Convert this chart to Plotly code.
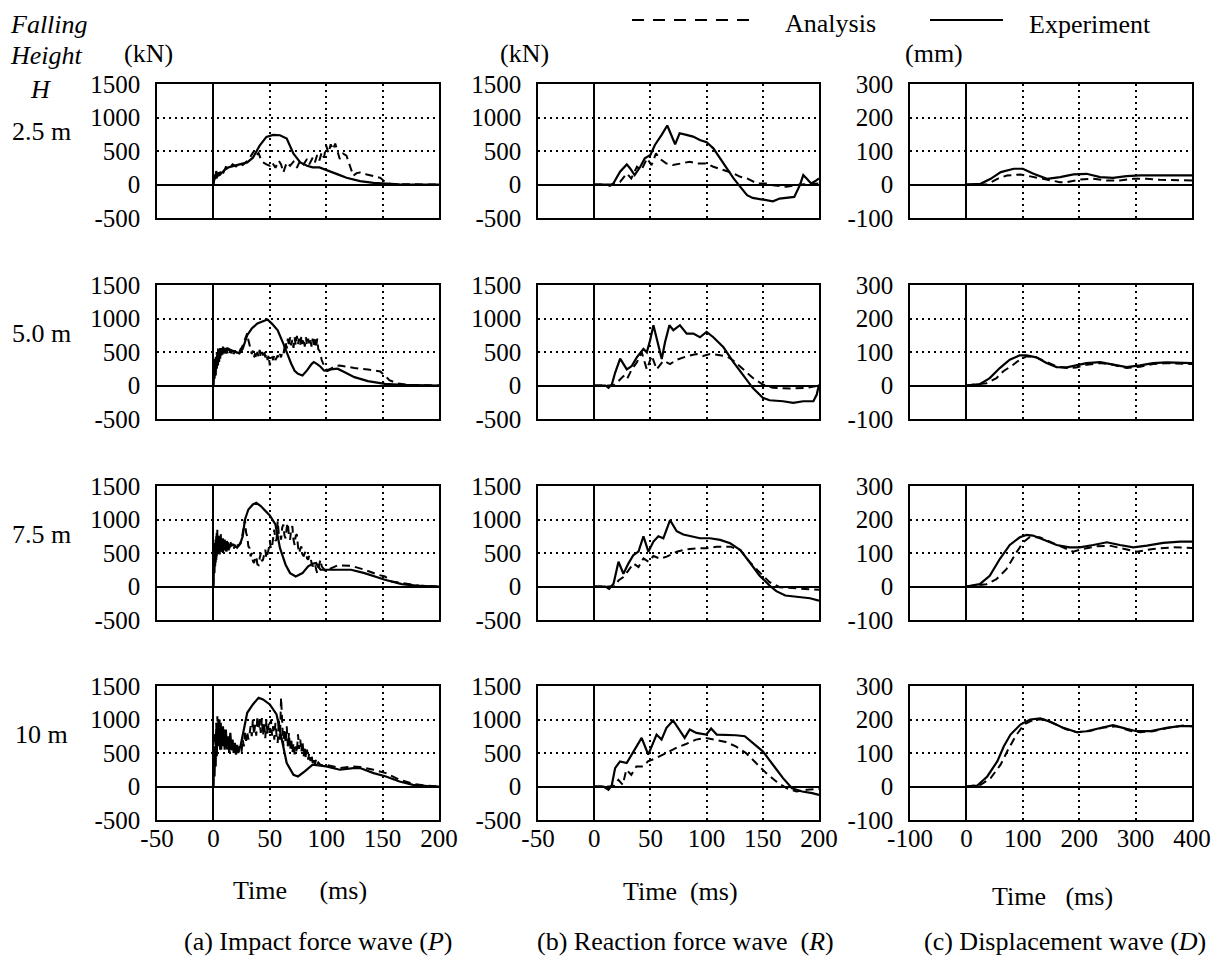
import plotly.graph_objects as go

# the page body adds an 8 px margin, so the figure is drawn 8 px smaller and shifted back
W, H = 1221, 959
OFF = 8
FW, FH = W - OFF, H - OFF
FONT = "Liberation Serif"

# ---- (a) impact force P (kN) ----
p25_t_exp = [0, 0.5, 1.5, 2.5, 3.5, 5, 6, 10, 14, 18, 22, 26, 30, 35, 41, 47, 53, 59, 65, 71, 77, 83, 88, 94, 100, 106, 112, 118, 124, 130, 142, 153, 165, 200]
p25_exp = [0, 150, 80, 200, 120, 180, 150, 220, 260, 280, 300, 310, 330, 400, 580, 710, 740, 735, 685, 460, 330, 280, 255, 255, 220, 180, 140, 100, 70, 50, 25, 10, 3, 0]
p25_t_ana = [0, 1, 2, 3, 4, 5, 7, 9, 11, 14, 17, 20, 23, 26, 30, 33, 35, 36, 38, 40, 42, 44, 47, 50, 52, 55, 58, 60, 62, 65, 68, 71, 74, 77, 80, 83, 85, 88, 90, 92, 94, 96, 98, 100, 102, 104, 106, 108, 110, 112, 115, 118, 121, 124, 127, 130, 136, 142, 148, 153, 158, 200]
p25_ana = [0, 100, 170, 90, 200, 130, 220, 180, 260, 240, 300, 270, 320, 290, 350, 420, 480, 500, 430, 470, 380, 330, 300, 280, 330, 250, 355, 300, 180, 330, 280, 340, 250, 360, 300, 380, 300, 400, 330, 440, 360, 480, 400, 580, 470, 600, 520, 610, 500, 380, 460, 430, 280, 130, 170, 180, 150, 130, 100, 25, 5, 0]

p50_t_exp = [0, 0.5, 1, 1.5, 2, 2.5, 3, 3.5, 4, 4.5, 5, 5.5, 6, 6.5, 7, 7.5, 8, 8.5, 9, 9.5, 10, 10.5, 11, 11.5, 12, 12.5, 13, 13.5, 14,
             17, 20, 23, 26, 28, 30, 34, 39, 44, 48, 52, 57, 62, 66, 69, 72, 75, 79, 83, 87, 89, 92, 95, 98, 101, 104, 110, 116, 125, 137, 152, 167, 200]
p50_exp = [0, 300, 100, 350, 150, 400, 250, 450, 300, 500, 350, 520, 400, 560, 450, 540, 460, 580, 480, 560, 500, 560, 480, 540, 500, 570, 520, 550, 540,
           520, 500, 480, 550, 650, 750, 850, 925, 960, 985, 920, 825, 625, 450, 325, 220, 175, 150, 225, 320, 350, 320, 280, 225, 220, 240, 250, 200, 125, 65, 25, 8, 0]
p50_t_ana = [0, 0.5, 1, 1.5, 2, 2.5, 3, 3.5, 4, 4.5, 5, 5.5, 6, 6.5, 7, 7.5, 8, 8.5, 9, 9.5, 10, 10.5, 11, 11.5, 12, 12.5, 13, 13.5, 14,
             15, 16, 17, 18, 19, 20, 21, 22, 23, 24, 25, 26, 27, 28, 29, 30, 31, 32, 33, 34, 35, 36, 37, 38, 39, 40, 41, 42, 43, 44,
             45, 46, 47, 48, 49, 50, 51, 52, 53, 54, 55, 56, 57, 58, 59, 60, 61, 62, 63, 64, 65, 66, 67, 68, 69, 70, 71, 72, 73, 74,
             75, 76, 77, 78, 79, 80, 81, 82, 83, 84, 85, 86, 87, 88, 89, 90, 91, 92, 93, 94, 95, 96,
             99, 101, 104, 108, 112, 118, 125, 137, 148, 152, 156, 163, 175, 200]
p50_ana = [0, 200, 400, 150, 450, 250, 500, 350, 550, 400, 520, 450, 560, 480, 540, 470, 560, 500, 540, 470, 520, 480, 560, 500, 540, 480, 520, 500, 540,
           520, 480, 540, 470, 520, 500, 480, 520, 500, 540, 560, 600, 650, 700, 760, 780, 680, 600, 520, 470,
           520, 420, 480, 400, 500, 430, 530, 420, 500, 450, 530, 420, 480, 380, 450, 300, 400, 420, 380, 450,
           380, 420, 450, 400, 470, 420, 500, 470, 560, 650, 550, 700, 580, 720, 600, 680, 560, 720, 600, 740,
           620, 700, 600, 740, 620, 700, 580, 720, 600, 700, 620, 680, 580, 700, 600, 690, 560, 700, 540, 520, 460, 380,
           260, 230, 250, 290, 300, 280, 260, 240, 210, 150, 80, 30, 8, 0]

p75_t_exp = [0, 0.5, 1, 1.5, 2, 2.5, 3, 3.5, 4, 4.5, 5, 5.5, 6, 6.5, 7, 7.5, 8, 8.5, 9, 9.5, 10, 10.5, 11, 11.5, 12, 12.5, 13, 13.5, 14, 14.5, 15,
             18, 21, 24, 26, 28, 31, 35, 38, 42, 45, 50, 55, 59, 64, 68, 73, 79, 84, 88, 91, 95, 100, 110, 122, 134, 152, 167, 182, 200]
p75_exp = [0, 250, 600, 300, 700, 400, 800, 500, 750, 550, 700, 480, 650, 520, 720, 560, 680, 500, 650, 540, 700, 560, 640, 520, 680, 580, 660, 540, 640, 580, 620,
           620, 580, 650, 750, 1000, 1150, 1225, 1250, 1200, 1150, 1060, 925, 575, 325, 200, 150, 200, 300, 340, 350, 250, 250, 250, 250, 200, 100, 35, 8, 0]
p75_t_ana = [0, 0.5, 1, 1.5, 2, 2.5, 3, 3.5, 4, 4.5, 5, 5.5, 6, 6.5, 7, 7.5, 8, 8.5, 9, 9.5, 10,
             11, 12, 13, 14, 15, 16, 17, 18, 19, 20, 21, 22, 23, 24, 25, 26, 27,
             28, 29, 30, 31, 32, 33, 34, 35, 36, 37, 38, 39, 40, 41, 42, 43, 44, 45, 46, 47,
             48, 49, 50, 51, 52, 53, 54, 55, 56, 57, 58, 59, 60, 61, 62, 63, 64, 65, 66, 67,
             68, 69, 70, 71, 72, 73, 74, 75, 76, 77, 78, 79, 80, 81, 82, 83, 84, 85, 86, 87,
             88, 89, 90, 91, 92, 93, 94, 95, 96, 97, 98, 99, 100,
             110, 122, 134, 146, 152, 158, 170, 182, 200]
p75_ana = [0, 400, 200, 650, 350, 750, 450, 850, 500, 780, 600, 750, 550, 800, 580, 700, 520, 750, 560, 680, 550,
           700, 580, 650, 560, 680, 600, 640, 560, 620, 580, 650, 600, 620, 640, 700, 820, 900,
           1000, 800, 750, 600, 575, 450, 500, 380, 350, 420, 450, 330, 320, 420, 500, 380, 400, 480, 550, 420,
           480, 560, 675, 560, 600, 720, 850, 680, 700, 975, 780, 800, 700, 880, 925, 760, 720, 880, 950, 740,
           700, 860, 900, 700, 620, 760, 780, 600, 500, 560, 600, 480, 450, 500, 520, 420, 400, 460, 450, 350,
           300, 330, 350, 260, 200, 280, 350, 400, 300, 275, 260, 240, 240,
           315, 310, 250, 175, 150, 75, 50, 15, 0]

p10_t_exp = [0, 0.5, 1, 1.5, 2, 2.5, 3, 3.5, 4, 4.5, 5, 5.5, 6, 6.5, 7, 7.5, 8, 8.5, 9, 9.5, 10,
             11, 12, 13, 14, 15, 16, 17, 18, 19, 20, 21, 22, 23, 24,
             27, 30, 35, 40, 44, 50, 56, 60, 65, 71, 75, 81, 88, 100, 112, 124, 130, 142, 153, 165, 177, 190, 200]
p10_exp = [0, 350, 150, 600, 300, 800, 450, 950, 600, 1000, 650, 900, 550, 950, 700, 850, 600, 900, 650, 800, 550,
           850, 600, 750, 500, 800, 550, 700, 500, 650, 480, 620, 500, 560, 600,
           850, 1100, 1225, 1325, 1300, 1225, 1075, 750, 350, 175, 150, 225, 325, 300, 250, 275, 275, 200, 150, 75, 25, 5, 0]
p10_t_ana = [0, 0.5, 1, 1.5, 2, 2.5, 3, 3.5, 4, 4.5, 5, 5.5, 6, 6.5, 7, 7.5, 8, 8.5, 9, 9.5, 10,
             11, 12, 13, 14, 15, 16, 17, 18, 19, 20, 21, 22, 23, 24,
             25, 26, 27, 28, 29, 30, 31, 32, 33, 34, 35, 36, 37, 38, 39, 40, 41, 42, 43, 44,
             45, 46, 47, 48, 49, 50, 51, 52, 53, 54, 55, 56, 57, 58, 59, 60, 61, 62, 63, 64,
             65, 66, 67, 68, 69, 70, 71, 72, 73, 74, 75, 76, 77, 78, 79, 80, 81, 82, 83, 84,
             85, 86, 87, 88, 89, 90, 91, 92, 93, 94, 95,
             100, 112, 124, 130, 142, 153, 165, 177, 190, 200]
p10_ana = [0, 550, 300, 800, 450, 950, 600, 1050, 700, 900, 650, 1000, 600, 850, 550, 900, 650, 800, 600, 850, 600,
           780, 550, 700, 500, 650, 520, 680, 550, 600, 480, 580, 520, 600, 540,
           520, 700, 600, 800, 680, 820, 700, 780, 900, 750, 1000, 780, 920, 760, 1050, 850, 980, 800, 1020, 760,
           950, 720, 1000, 780, 940, 800, 1000, 760, 900, 700, 950, 760, 650, 1000, 700, 1325, 800, 600, 850, 650,
           900, 600, 800, 550, 720, 500, 650, 480, 600, 500, 780, 560, 700, 520, 680, 450, 600, 420, 550, 400,
           500, 380, 480, 350, 420, 340, 400, 330, 360, 330, 320,
           325, 275, 300, 290, 250, 200, 100, 40, 10, 0]

# ---- (b) reaction force R (kN) ----
r25_t_exp = [0, 11, 14, 17, 23, 29, 32, 36, 41, 45, 50, 54, 60, 65, 72, 76, 82, 88, 94, 100, 106, 115, 124, 130, 136, 141, 150, 159, 165, 174, 178, 183, 186, 189, 193, 198, 200]
r25_exp = [0, 0, -20, 15, 190, 300, 240, 140, 265, 390, 440, 590, 740, 880, 600, 765, 740, 715, 665, 630, 540, 315, 90, -35, -160, -200, -220, -250, -210, -200, -185, -10, 140, 90, 15, 65, 90]
r25_t_ana = [0, 17, 23, 29, 33, 38, 42, 47, 51, 55, 58, 64, 70, 79, 85, 91, 100, 106, 115, 124, 130, 136, 145, 153, 159, 171, 183, 200]
r25_ana = [0, 0, 40, 165, 90, 265, 215, 390, 290, 465, 390, 315, 290, 315, 340, 315, 315, 265, 215, 165, 115, 90, 15, 15, -10, -35, 0, 15]

r50_t_exp = [0, 10, 12.7, 15.7, 18.6, 23.1, 29, 33.4, 37.9, 43.8, 46.8, 49.7, 52.7, 57.1, 60.1, 63, 66.9, 70.4, 76.3, 82.3, 88.2, 94.1, 100, 106, 115, 124, 133, 141, 150, 156, 168, 177, 186, 195, 198, 200]
r50_exp = [0, 0, -35, 15, 190, 400, 240, 290, 420, 545, 495, 670, 900, 600, 395, 645, 900, 825, 900, 775, 775, 720, 800, 720, 570, 345, 140, -35, -185, -220, -235, -260, -235, -235, -135, 15]
r50_t_ana = [0, 17, 21.6, 26, 29, 33.4, 37.9, 42.3, 46.8, 51.2, 55.6, 61.5, 67.5, 73.4, 82.3, 91.1, 97, 103, 109, 118, 124, 133, 141, 150, 159, 174, 189, 200]
r50_ana = [0, 0, 65, 140, 90, 240, 345, 495, 240, 445, 240, 370, 320, 385, 435, 470, 440, 470, 460, 435, 370, 240, 115, 15, -35, -45, -35, 0]

r75_t_exp = [0, 10, 13.3, 17.2, 21.6, 26, 30.5, 34.9, 39.4, 43.8, 48.2, 52.7, 57.1, 61.5, 67.5, 73.4, 79.3, 85.2, 94.1, 103, 112, 121, 130, 138, 147, 156, 162, 170, 180, 192, 200]
r75_exp = [0, 0, -35, 40, 370, 190, 345, 470, 520, 750, 520, 670, 750, 720, 990, 825, 775, 750, 720, 720, 695, 645, 545, 370, 165, 15, -70, -135, -150, -175, -210]
r75_t_ana = [0, 18.6, 21.6, 26, 30.5, 34.9, 39.4, 43.8, 48.2, 52.7, 58.6, 64.5, 73.4, 82.3, 91.1, 100, 109, 121, 130, 138, 147, 156, 165, 177, 189, 200]
r75_ana = [0, 0, 90, 140, 240, 345, 290, 420, 370, 455, 415, 445, 520, 555, 570, 570, 595, 595, 545, 370, 215, 65, -10, -20, -35, -50]

r10_t_exp = [0, 8.3, 12.7, 15.6, 18.6, 23, 28.9, 34.8, 42.2, 48.1, 55.5, 59.9, 64.3, 70.2, 76.1, 80.5, 85, 90.9, 99.7, 104, 109, 117, 126, 134, 141, 150, 159, 168, 176, 185, 194, 200]
r10_exp = [0, 0, -50, 15, 275, 375, 350, 525, 725, 475, 775, 700, 875, 985, 825, 725, 850, 800, 775, 865, 775, 775, 765, 750, 650, 525, 325, 125, -25, -75, -100, -125]
r10_t_ana = [0, 17, 21.5, 25.4, 28.6, 33, 37.5, 43.4, 47.8, 55.2, 64, 72.9, 81.7, 90.6, 99.4, 108, 117, 126, 135, 144, 153, 162, 171, 180, 189, 200]
r10_ana = [0, 0, 100, 25, 250, 175, 300, 300, 375, 425, 500, 575, 635, 700, 725, 700, 665, 600, 500, 350, 200, 75, -25, -75, -50, -35]

# ---- (c) displacement D (mm) ----
d25_t_exp = [0, 25, 43, 61, 84, 100, 119, 143, 166, 190, 213, 237, 260, 284, 308, 355, 400]
d25_exp = [0, 2, 17, 37, 47, 47, 32, 17, 22, 30, 32, 22, 20, 25, 27, 27, 27]
d25_t_ana = [0, 37, 55, 72, 96, 119, 143, 166, 178, 202, 225, 249, 272, 296, 319, 343, 400]
d25_ana = [0, 0, 17, 27, 30, 22, 14, 7, 7, 15, 17, 12, 12, 17, 17, 14, 12]

d50_t_exp = [0, 23.7, 41.4, 59.2, 76.9, 94.7, 106.5, 124, 142, 160, 178, 195, 213, 237, 260, 284, 308, 331, 355, 400]
d50_exp = [0, 4, 22, 52, 77, 90, 90, 84, 67, 55, 54, 60, 67, 70, 62, 55, 60, 67, 69, 67]
d50_t_ana = [0, 35.5, 53.3, 65, 83, 94.7, 106.5, 124, 142, 160, 178, 195, 213, 237, 260, 284, 308, 331, 355, 400]
d50_ana = [0, 7, 22, 42, 62, 77, 87, 84, 70, 57, 52, 54, 62, 67, 62, 52, 56, 64, 67, 64]

d75_t_exp = [0, 23.7, 41.4, 59.2, 76.9, 94.7, 106.5, 118, 136, 160, 183, 201, 225, 249, 272, 296, 320, 349, 379, 400]
d75_exp = [0, 7, 32, 82, 124, 147, 154, 152, 140, 124, 117, 117, 124, 132, 124, 117, 122, 130, 134, 134]
d75_t_ana = [0, 35.5, 53.3, 71, 88.8, 100.6, 112, 130, 148, 172, 189, 207, 231, 254, 278, 302, 331, 367, 400]
d75_ana = [0, 7, 22, 52, 102, 132, 147, 147, 134, 117, 104, 112, 120, 122, 112, 104, 112, 117, 115]

d10_t_exp = [0, 19.4, 37, 54.7, 66.4, 78.2, 95.8, 113, 131, 149, 172, 196, 213, 237, 260, 284, 302, 325, 355, 378, 400]
d10_exp = [0, 3, 30, 75, 120, 155, 185, 200, 203, 193, 175, 162, 165, 175, 183, 172, 165, 165, 175, 180, 180]
d10_t_ana = [0, 25.3, 43, 60.6, 72.4, 87, 102, 120, 137, 155, 178, 196, 219, 243, 266, 290, 308, 331, 361, 384, 400]
d10_ana = [0, 5, 25, 65, 105, 150, 185, 200, 200, 188, 170, 162, 166, 176, 180, 166, 162, 165, 176, 182, 180]

heights = ["2.5 m", "5.0 m", "7.5 m", "10 m"]

# tick values and labels (plain hyphen minus like the original)
force_t_ticks = [-50, 0, 50, 100, 150, 200]
force_t_labels = ["-50", "0", "50", "100", "150", "200"]
force_ticks = [-500, 0, 500, 1000, 1500]
force_labels = ["-500", "0", "500", "1000", "1500"]
disp_t_ticks = [-100, 0, 100, 200, 300, 400]
disp_t_labels = ["-100", "0", "100", "200", "300", "400"]
disp_ticks = [-100, 0, 100, 200, 300]
disp_labels = ["-100", "0", "100", "200", "300"]

panels = [
    [(p25_t_exp, p25_exp, p25_t_ana, p25_ana), (p50_t_exp, p50_exp, p50_t_ana, p50_ana),
     (p75_t_exp, p75_exp, p75_t_ana, p75_ana), (p10_t_exp, p10_exp, p10_t_ana, p10_ana)],
    [(r25_t_exp, r25_exp, r25_t_ana, r25_ana), (r50_t_exp, r50_exp, r50_t_ana, r50_ana),
     (r75_t_exp, r75_exp, r75_t_ana, r75_ana), (r10_t_exp, r10_exp, r10_t_ana, r10_ana)],
    [(d25_t_exp, d25_exp, d25_t_ana, d25_ana), (d50_t_exp, d50_exp, d50_t_ana, d50_ana),
     (d75_t_exp, d75_exp, d75_t_ana, d75_ana), (d10_t_exp, d10_exp, d10_t_ana, d10_ana)],
]

# panel boxes in page pixels
col_px = [(157, 439), (538, 819), (910, 1192)]
row_px = [(84, 218), (285, 419), (486, 620), (686, 820)]
x_ranges = [[-50, 200], [-50, 200], [-100, 400]]
y_ranges = [[-500, 1500], [-500, 1500], [-100, 300]]
x_ticks = [(force_t_ticks, force_t_labels), (force_t_ticks, force_t_labels), (disp_t_ticks, disp_t_labels)]
y_ticks = [(force_ticks, force_labels), (force_ticks, force_labels), (disp_ticks, disp_labels)]


def fx(p):
    return (p - OFF) / FW


def fy(p):
    return 1 - (p - OFF) / FH


fig = go.Figure()
layout = {}
for c in range(3):
    for r in range(4):
        k = r * 3 + c + 1
        sfx = "" if k == 1 else str(k)
        te, ve, ta, va = panels[c][r]
        fig.add_trace(go.Scatter(x=ta, y=va, xaxis="x" + sfx, yaxis="y" + sfx, mode="lines",
                                 line=dict(color="black", width=2, dash="8px,5px"), showlegend=False))
        fig.add_trace(go.Scatter(x=te, y=ve, xaxis="x" + sfx, yaxis="y" + sfx, mode="lines",
                                 line=dict(color="black", width=2.2), showlegend=False))
        common = dict(showline=True, mirror=True, linecolor="black", linewidth=1.5,
                      showgrid=True, gridcolor="black", gridwidth=1.5, griddash="2px,4px",
                      zeroline=True, zerolinecolor="black", zerolinewidth=1.5, automargin=False,
                      ticks="", tickfont=dict(family=FONT, size=25, color="black"))
        layout["xaxis" + sfx] = dict(common, domain=[fx(col_px[c][0]), fx(col_px[c][1])],
                                     range=x_ranges[c], tickvals=x_ticks[c][0], ticktext=x_ticks[c][1],
                                     anchor="y" + sfx, showticklabels=(r == 3), ticklabelstandoff=-5)
        layout["yaxis" + sfx] = dict(common, domain=[fy(row_px[r][1]), fy(row_px[r][0])],
                                     range=y_ranges[c], tickvals=y_ticks[c][0], ticktext=y_ticks[c][1],
                                     anchor="x" + sfx, ticklabelstandoff=10)


def note(text, x, y, xanchor="center", size=26):
    return dict(text=text, x=fx(x), y=fy(y), xref="paper", yref="paper", xanchor=xanchor,
                yanchor="middle", showarrow=False, font=dict(family=FONT, size=size, color="black"))


annotations = [
    note("<i>Falling</i>", 8, 24, "left"),
    note("<i>Height</i>", 8, 55, "left"),
    note("<i>H</i>", 40, 89),
    note("(kN)", 148, 53),
    note("(kN)", 524, 53),
    note("(mm)", 934, 53),
    note("Analysis", 783, 23, "left"),
    note("Experiment", 1027, 24, "left"),
    note("Time\u00a0\u00a0\u00a0\u00a0\u00a0(ms)", 300, 890),
    note("Time\u00a0\u00a0(ms)", 680, 891),
    note("Time\u00a0\u00a0\u00a0(ms)", 1052, 896),
    note("(a) Impact force wave (<i>P</i>)", 318, 941),
    note("(b) Reaction force wave\u00a0\u00a0(<i>R</i>)", 686, 941),
    note("(c) Displacement wave (<i>D</i>)", 1065, 941),
]
for r, lab in enumerate(heights):
    annotations.append(note(lab, 41, row_px[r][0] + 48))

shapes = [
    dict(type="line", xref="paper", yref="paper", x0=fx(632), x1=fx(755), y0=fy(20), y1=fy(20),
         line=dict(color="black", width=1.8, dash="12px,9px")),
    dict(type="line", xref="paper", yref="paper", x0=fx(930), x1=fx(1003), y0=fy(20), y1=fy(20),
         line=dict(color="black", width=1.8)),
]

fig.update_layout(width=FW, height=FH, margin=dict(l=0, r=0, t=0, b=0),
                  paper_bgcolor="white", plot_bgcolor="white",
                  annotations=annotations, shapes=shapes, **layout)
fig.write_html("out.html")
